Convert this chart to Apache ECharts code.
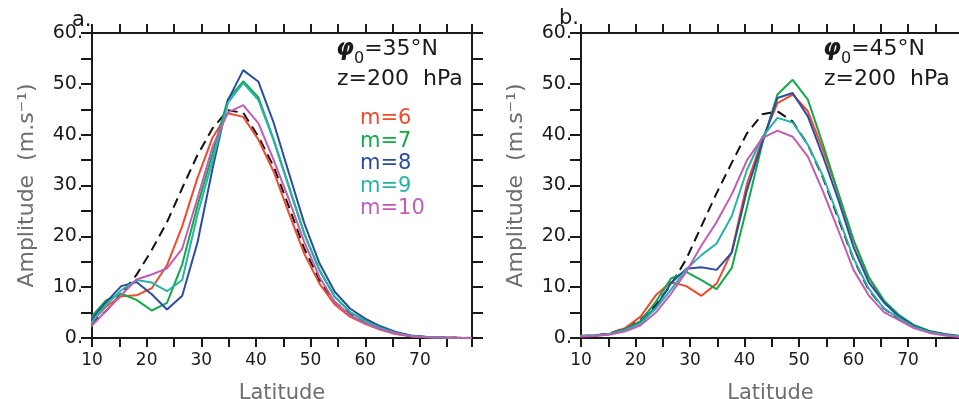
<!DOCTYPE html>
<html>
<head>
<meta charset="utf-8">
<script src="https://cdn.jsdelivr.net/npm/echarts@6/dist/echarts.min.js"></script>
<style>
html,body{margin:0;padding:0;background:#fff;}
#chart{width:959px;height:399px;}
</style>
</head>
<body>
<div id="chart"></div>
<script>
// Gaussian-grid latitudes (deg N)
const latitudes = [9.77, 12.56, 15.35, 18.14, 20.93, 23.72, 26.51, 29.30, 32.09, 34.88, 37.67, 40.46, 43.25, 46.04, 48.83, 51.62, 54.41, 57.20, 59.99, 62.78, 65.57, 68.36, 71.15, 73.94, 76.73, 79.53];

const seriesNames = ['m=6', 'm=7', 'm=8', 'm=9', 'm=10'];

// Panel a: phi0 = 35N, z = 200 hPa
const a_m6  = [3.0, 6.2, 8.2, 8.4, 9.8, 14.3, 22.0, 31.5, 39.5, 44.2, 43.5, 39.0, 32.7, 24.5, 16.6, 10.7, 6.6, 4.2, 2.8, 1.6, 0.8, 0.35, 0.15, 0.08, 0.04, 0.02];
const a_m7  = [4.0, 7.4, 8.7, 7.5, 5.4, 6.9, 14.5, 26.0, 36.4, 47.0, 50.5, 47.3, 39.0, 29.8, 20.6, 13.4, 8.1, 5.1, 3.4, 2.0, 1.0, 0.4, 0.2, 0.1, 0.05, 0.02];
const a_m8  = [3.5, 7.0, 10.2, 11.0, 8.6, 5.6, 8.3, 18.8, 33.5, 46.8, 52.7, 50.4, 42.3, 32.4, 22.6, 14.7, 9.1, 5.8, 3.8, 2.3, 1.2, 0.5, 0.2, 0.1, 0.05, 0.02];
const a_m9  = [2.8, 6.5, 9.4, 11.4, 10.9, 9.2, 11.4, 24.3, 35.0, 46.3, 50.2, 46.8, 38.8, 29.6, 20.5, 13.3, 8.1, 5.1, 3.3, 2.0, 1.0, 0.4, 0.2, 0.1, 0.05, 0.02];
const a_m10 = [2.2, 5.3, 8.4, 11.5, 12.5, 13.7, 17.6, 27.5, 37.7, 44.4, 45.8, 42.2, 35.0, 27.2, 18.9, 12.0, 7.1, 4.5, 2.9, 1.7, 0.9, 0.35, 0.15, 0.08, 0.04, 0.02];
const a_ref = [2.8, 5.3, 8.7, 12.4, 17.3, 22.8, 29.5, 36.0, 41.3, 44.8, 44.3, 39.6, 33.7, 25.8, 17.6, 11.4, 7.1, 4.7, 3.0, 1.8, 0.9, 0.4, 0.2, 0.1, 0.05, 0.02];

// Panel b: phi0 = 45N, z = 200 hPa
const b_m6  = [0.4, 0.5, 0.8, 2.0, 4.2, 8.4, 11.0, 10.2, 8.3, 10.7, 17.0, 30.4, 39.0, 46.2, 47.9, 44.6, 37.0, 28.5, 19.2, 11.9, 7.2, 4.3, 2.4, 1.3, 0.7, 0.3];
const b_m7  = [0.4, 0.5, 0.8, 1.8, 3.3, 7.1, 11.7, 13.0, 11.4, 9.6, 13.8, 25.8, 38.2, 47.9, 50.8, 46.9, 38.0, 28.5, 19.3, 12.0, 7.4, 4.5, 2.5, 1.4, 0.8, 0.4];
const b_m8  = [0.4, 0.5, 0.8, 1.7, 3.0, 6.1, 10.8, 13.6, 13.9, 13.4, 16.8, 29.1, 38.5, 47.2, 48.2, 43.6, 35.7, 27.2, 17.9, 11.0, 7.0, 4.2, 2.3, 1.3, 0.7, 0.3];
const b_m9  = [0.4, 0.5, 0.8, 1.6, 2.9, 5.8, 9.5, 13.5, 16.3, 18.6, 24.0, 33.1, 39.5, 43.3, 42.4, 38.0, 31.8, 23.9, 15.7, 9.7, 5.8, 3.9, 2.1, 1.2, 0.6, 0.3];
const b_m10 = [0.3, 0.4, 0.7, 1.3, 2.5, 5.0, 8.7, 13.0, 18.2, 22.8, 28.3, 35.0, 39.3, 40.8, 39.6, 35.7, 28.8, 21.2, 13.4, 8.4, 5.1, 3.5, 1.9, 1.0, 0.5, 0.2];
const b_ref = [0.3, 0.5, 0.9, 2.0, 3.6, 6.5, 10.5, 15.5, 22.0, 28.5, 34.5, 40.3, 44.0, 44.6, 42.6, 38.0, 31.5, 23.5, 15.5, 9.5, 5.8, 3.6, 2.1, 1.2, 0.7, 0.3];

const yTickLabels = ['0.', '10.', '20.', '30.', '40.', '50.', '60.'];
const xTickLabels = ['10', '20', '30', '40', '50', '60', '70'];

const FONT = 'DejaVu Sans';
const INK = '#1a1a1a';
const NAME_GRAY = '#6e6e6e';
const colors = ['#ee4a2b', '#13a84a', '#2b4c9f', '#26b4a7', '#c25db4'];

const chart = echarts.init(document.getElementById('chart'), null, {renderer: 'canvas'});

function xAxes(gi) {
  const common = {
    gridIndex: gi, type: 'value', min: 10, max: 79.53, interval: 5,
    axisLine: {show: true, onZero: false, lineStyle: {color: INK, width: 2}},
    axisTick: {show: true, inside: false, length: 9, lineStyle: {color: INK, width: 2}},
    splitLine: {show: false}
  };
  return [
    Object.assign({}, common, {
      position: 'bottom',
      axisLabel: {
        show: true, margin: 14, fontSize: 17, color: INK, fontFamily: FONT,
        formatter: v => { const s = String(Math.round(v)); return (Math.abs(v - Math.round(v)) < 1e-6 && xTickLabels.includes(s)) ? s : ''; }
      },
      name: 'Latitude', nameLocation: 'middle', nameGap: 45,
      nameTextStyle: {fontSize: 21, color: NAME_GRAY, fontFamily: FONT, verticalAlign: 'top'}
    }),
    Object.assign({}, common, {position: 'top', axisLabel: {show: false}})
  ];
}

function yAxes(gi) {
  const common = {
    gridIndex: gi, type: 'value', min: 0, max: 60, interval: 5,
    axisLine: {show: true, onZero: false, lineStyle: {color: INK, width: 2}},
    axisTick: {show: true, inside: false, length: 11, lineStyle: {color: INK, width: 2}},
    splitLine: {show: false}
  };
  return [
    Object.assign({}, common, {
      position: 'left',
      axisLabel: {
        show: true, margin: 9, fontSize: 19, color: INK, fontFamily: FONT,
        formatter: v => (v % 10 === 0) ? yTickLabels[v / 10] : ''
      },
      name: 'Amplitude  (m.s\u207B\u00B9)', nameLocation: 'middle', nameRotate: 90, nameGap: 54,
      nameTextStyle: {fontSize: 22, color: NAME_GRAY, fontFamily: FONT}
    }),
    Object.assign({}, common, {position: 'right', axisLabel: {show: false}})
  ];
}

function pairs(arr) { return latitudes.map((x, i) => [x, arr[i]]); }

function panelSeries(gi, refArr, arrs) {
  const xi = gi * 2, yi = gi * 2;
  const out = [{
    name: 'reference', type: 'line', xAxisIndex: xi, yAxisIndex: yi,
    data: pairs(refArr), symbol: 'none', clip: true, z: 2,
    lineStyle: {color: '#111', width: 2, type: [10, 6]}
  }];
  arrs.forEach((a, k) => {
    out.push({
      name: seriesNames[k], type: 'line', xAxisIndex: xi, yAxisIndex: yi,
      data: pairs(a), symbol: 'none', clip: true, z: 3,
      itemStyle: {color: colors[k]},
      lineStyle: {color: colors[k], width: 2}
    });
  });
  return out;
}

function richPhi(value) {
  return {
    type: 'text', left: 0, top: 0,
    style: {
      text: '{p|\u03C6}{s|0}{t|=' + value + '\u00B0N}',
      rich: {
        p: {fontSize: 23, fontStyle: 'italic', fontWeight: 'bold', fontFamily: FONT, fill: INK, lineHeight: 34},
        s: {fontSize: 16, fontFamily: FONT, fill: INK, lineHeight: 16, verticalAlign: 'bottom'},
        t: {fontSize: 22, fontFamily: FONT, fill: INK, lineHeight: 34}
      }
    }
  };
}

const phiA = richPhi('35'); phiA.left = 336; phiA.top = 38;
const phiB = richPhi('45'); phiB.left = 823; phiB.top = 38;

const gridCommon = {outerBoundsMode: 'none', containLabel: false};

const option = {
  animation: false,
  backgroundColor: '#ffffff',
  grid: [
    Object.assign({left: 92, top: 33, width: 380, height: 305}, gridCommon),
    Object.assign({left: 581, top: 33, width: 379, height: 305}, gridCommon)
  ],
  xAxis: [...xAxes(0), ...xAxes(1)],
  yAxis: [...yAxes(0), ...yAxes(1)],
  legend: {
    show: true, orient: 'vertical', left: 355, top: 108,
    icon: 'none', itemWidth: 0, itemHeight: 14, itemGap: 1.6, padding: 0,
    selectedMode: false,
    data: seriesNames.map((n, k) => ({name: n, textStyle: {color: colors[k], fontSize: 21, fontFamily: FONT}})),
    textStyle: {fontSize: 21, fontFamily: FONT}
  },
  graphic: [
    {type: 'text', left: 72, top: 10, style: {text: 'a.', fontSize: 21, fontFamily: FONT, fill: INK}},
    {type: 'text', left: 559, top: 8, style: {text: 'b.', fontSize: 21, fontFamily: FONT, fill: INK}},
    phiA,
    {type: 'text', left: 337, top: 68, style: {text: 'z=200  hPa', fontSize: 22, fontFamily: FONT, fill: INK}},
    phiB,
    {type: 'text', left: 824, top: 68, style: {text: 'z=200  hPa', fontSize: 22, fontFamily: FONT, fill: INK}}
  ],
  series: [
    ...panelSeries(0, a_ref, [a_m6, a_m7, a_m8, a_m9, a_m10]),
    ...panelSeries(1, b_ref, [b_m6, b_m7, b_m8, b_m9, b_m10])
  ]
};

chart.setOption(option);
</script>
</body>
</html>
